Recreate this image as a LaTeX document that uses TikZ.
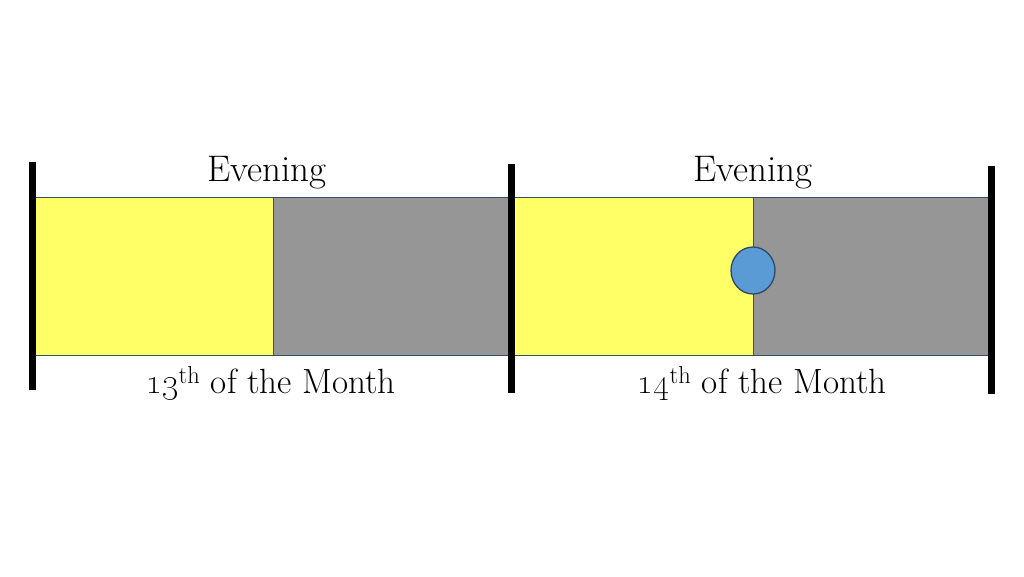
\documentclass[tikz,border=0pt]{standalone}
\usetikzlibrary{shapes.geometric}
\definecolor{dayyellow}{HTML}{FFFF66}
\definecolor{nightgray}{HTML}{969696}
\definecolor{edgeblue}{HTML}{36506A}
\definecolor{moonblue}{HTML}{5B9BD5}
\definecolor{moonedge}{HTML}{2E4A66}
\tikzset{
  block/.style={draw=edgeblue, line width=1.2pt, rectangle, inner sep=0pt, anchor=north west, minimum height=158pt},
  daybox/.style={block, fill=dayyellow},
  nightbox/.style={block, fill=nightgray},
  divider/.style={line width=7pt, black},
  toplbl/.style={anchor=base, inner sep=0pt, font=\fontsize{37}{40}\selectfont},
  botlbl/.style={anchor=base, inner sep=0pt, font=\fontsize{35}{38}\selectfont},
  moon/.style={ellipse, draw=moonedge, line width=1.3pt, fill=moonblue, minimum width=44pt, minimum height=47pt, inner sep=0pt}
}
\begin{document}
\begin{tikzpicture}[x=1pt,y=-1pt]
\useasboundingbox (0,0) rectangle (1024,576);
\fill[white] (0,0) rectangle (1024,576);
\node[daybox, minimum width=238pt] (d1) at (35,197) {};
\node[nightbox, minimum width=238pt] (n1) at (273,197) {};
\node[daybox, minimum width=242pt] (d2) at (511,197) {};
\node[nightbox, minimum width=235pt] (n2) at (753,197) {};
\node[moon] (m) at (753,270.5) {};
\coordinate (b1t) at (32,162); \coordinate (b1b) at (32,390);
\coordinate (b2t) at (511.5,164); \coordinate (b2b) at (511.5,393);
\coordinate (b3t) at (991.5,166); \coordinate (b3b) at (991.5,394);
\draw[divider] (b1t) -- (b1b);
\draw[divider] (b2t) -- (b2b);
\draw[divider] (b3t) -- (b3b);
\node[toplbl] (e1) at (267,181) {Evening};
\node[toplbl] (e2) at (753,181) {Evening};
\node[botlbl] (t1) at (271,393) {\oldstylenums{13}\textsuperscript{th} of the Month};
\node[botlbl] (t2) at (762,393) {\oldstylenums{14}\textsuperscript{th} of the Month};
\end{tikzpicture}
\end{document}
